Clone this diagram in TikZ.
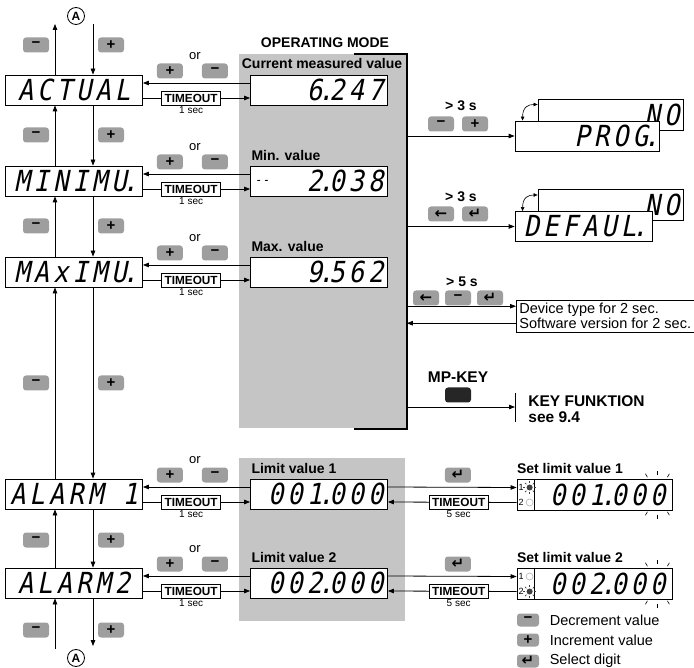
\documentclass[tikz,border=0pt]{standalone}
\usepackage{fontspec}
\setmainfont{Liberation Sans}
\newfontfamily\segfont[FakeSlant=0.2,FakeStretch=0.88,LetterSpace=14]{DejaVu Sans Mono}
\newfontfamily\symfont{DejaVu Sans}
\usetikzlibrary{calc,positioning,arrows.meta}
\definecolor{keygray}{RGB}{158,158,158}
\definecolor{modegray}{RGB}{197,197,197}
\tikzset{>={Triangle[length=6pt,width=4.5pt]},
  lcd/.style={draw,fill=white,minimum width=137pt,minimum height=30pt,inner sep=0pt,
    font=\segfont\fontsize{29}{29}\selectfont},
  disp/.style={lcd,text width=129pt,align=right},
  key/.style={fill=keygray,rounded corners=3pt,minimum width=26pt,minimum height=15pt,
    inner sep=0pt,font=\bfseries\fontsize{15}{15}\selectfont},
  tbox/.style={draw,fill=white,inner sep=1.5pt,minimum width=59pt,minimum height=14pt,
    font=\bfseries\fontsize{11.8}{12}\selectfont},
  sec/.style={font=\fontsize{10}{10}\selectfont,inner sep=1pt},
  hd/.style={font=\bfseries\fontsize{14}{14}\selectfont,inner sep=0pt},
  txt/.style={font=\fontsize{14.5}{15}\selectfont,inner sep=0pt},
  ring/.style={circle,draw,inner sep=0pt,minimum size=17pt,font=\bfseries\fontsize{12}{12}\selectfont}
}
\newcommand*{\segdot}{\hbox to 7pt{\hss.\hss}}
\newcommand*{\ledon}[1]
  {\fill[black!75] (#1) circle (3pt);
   \foreach \a in {0,45,...,315} \draw[black!75,line width=0.6pt] ($(#1)+(\a:4.5)$) -- ($(#1)+(\a:6.5)$)}
\newcommand*{\ledoff}[1]
  {\draw[black!30,line width=0.6pt] (#1) circle (3.5pt)}

\begin{document}
\begin{tikzpicture}[x=1pt,y=-1pt,line width=0.8pt]
\useasboundingbox (0,0) rectangle (694,668);
% operating mode panels
\node[fill=modegray,anchor=north west,minimum width=167pt,minimum height=374pt,inner sep=0pt] (mode) at (239,54) {};
\node[fill=modegray,anchor=north west,minimum width=166pt,minimum height=163pt,inner sep=0pt] (limit) at (239,458) {};
\draw[line width=2pt] ($(mode.north east)+(-53,0)$) -- (mode.north east) -- (mode.south east) -- ($(mode.south east)+(-53,0)$);
\node[hd] (opmode) at (325,43) {OPERATING MODE};
\node[hd] (curlabel) at (322,63) {Current measured value};

% menu displays
\node[lcd] (actual) at (74,90) {ACTUAL};
\node[lcd] (minimu) at (74,181) {MINIMU\segdot};
\node[lcd] (maximu) at (74,272) {MAxIMU\segdot};
\node[lcd] (alarm1) at (74,494) {ALARM 1};
\node[lcd] (alarm2) at (74,583) {ALARM2};

% value displays
\node[disp] (cur) at (319,90) {6\segdot247};
\node[disp] (min) at (319,181) {\raisebox{7pt}{\fontsize{13}{13}\selectfont-\kern1pt-}\hfill2\segdot038};
\node[disp] (max) at (319,272) {9\segdot562};
\node[disp] (lim1) at (319,494) {001\segdot000};
\node[disp] (lim2) at (319,583) {002\segdot000};
\foreach \n/\t in {min/Min. value,max/Max. value,lim1/Limit value 1,lim2/Limit value 2}
  \node[hd,anchor=west] (lb\n) at ($(\n.north west)+(1,-10)$) {\t};

% up/down through the menu
\node[ring] (atop) at (76,16) {A};
\node[ring] (abot) at (76,658) {A};
\coordinate (upend) at (55,24);
\coordinate (dnend) at (93,24);
\coordinate (upstart) at (55,649);
\coordinate (dnstop) at (93,646);
\draw[->] ($(actual.north)+(-19,0)$) -- (upend);
\draw[->] (dnend) -- ($(actual.north)+(19,0)$);
\foreach \a/\b in {actual/minimu,minimu/maximu,maximu/alarm1,alarm1/alarm2}{
  \draw[->] ($(\b.north)+(-19,0)$) -- ($(\a.south)+(-19,0)$);
  \draw[->] ($(\a.south)+(19,0)$) -- ($(\b.north)+(19,0)$);
}
\draw[->] (upstart) -- ($(alarm2.south)+(-19,0)$);
\draw[->] ($(alarm2.south)+(19,0)$) -- (dnstop);
\foreach \y in {45,135,226,383,540,630}{
  \node[key] (m\y) at (36,\y) {−};
  \node[key] (p\y) at (111,\y) {+};
}

% menu <-> value
\foreach \l/\r in {actual/cur,minimu/min,maximu/max,alarm1/lim1,alarm2/lim2}{
  \draw[->] ($(\r.west)+(0,-7)$) -- ($(\l.east)+(0,-7)$);
  \draw[->] ($(\l.east)+(0,8)$) -- node[tbox,pos=.45,label={[sec]below:1 sec}] (to\l) {TIMEOUT} ($(\r.west)+(0,8)$);
  \node[font=\fontsize{13}{13}\selectfont,inner sep=0pt] (or\l) at ($(\l.east)+(52,-34)$) {or};
  \node[key] (p\l) at ($(\l.east)+(27,-19)$) {+};
  \node[key] (m\l) at ($(\l.east)+(72,-19)$) {−};
}

% setting the limits
\node[lcd,minimum width=155pt,minimum height=31pt,text width=142pt,align=right] (set1) at (594.5,494.5) {001\segdot000};
\node[lcd,minimum width=155pt,minimum height=31pt,text width=142pt,align=right] (set2) at (594.5,583.5) {002\segdot000};
\foreach \n/\s in {1/set1,2/set2}{
  \draw[->] ($(lim\n.east)+(0,-7)$) -- ($(\s.west)+(0,-7)$);
  \draw[->] ($(\s.west)+(0,8)$) -- node[tbox,pos=.45,label={[sec]below:5 sec}] (ts\n) {TIMEOUT} ($(lim\n.east)+(0,8)$);
  \node[key] (e\n) at ($(lim\n.east)+(70,-19)$) {\symfont ↵};
  \node[hd,anchor=west] (lb\s) at ($(\s.north west)+(0,-10)$) {Set limit value \n};
  \draw ($(\s.north west)+(18,0)$) -- ($(\s.south west)+(18,0)$);
  \node[font=\fontsize{9}{9}\selectfont,inner sep=0pt] (one\n) at ($(\s.west)+(4.5,-7)$) {1};
  \node[font=\fontsize{9}{9}\selectfont,inner sep=0pt] (two\n) at ($(\s.west)+(4.5,8)$) {2};
  \coordinate (ledA\n) at ($(\s.west)+(13,-7)$);
  \coordinate (ledB\n) at ($(\s.west)+(13,8)$);
  \coordinate (fl\n) at ($(\s.east)+(-15,0)$);
  \foreach \a in {60,90,120,240,270,300}
    \draw[line width=0.6pt] ($(fl\n)+(\a:20)$) -- ($(fl\n)+(\a:24)$);
}
\ledon{ledA1};
\ledoff{ledB1};
\ledoff{ledA2};
\ledon{ledB2};

% PROG and DEFAUL
\node[lcd,minimum width=145pt,minimum height=31pt,text width=138pt,align=right] (no1) at (610.5,114.5) {NO};
\node[lcd,minimum width=144pt,text width=136pt,align=right] (prog) at (587,136) {PROG\segdot};
\node[lcd,minimum width=145pt,minimum height=31pt,text width=138pt,align=right] (no2) at (610.5,205) {NO};
\node[lcd] (defaul) at (583.5,226.5) {DEFAUL\segdot};
\draw[<->,>={Triangle[length=4pt,width=3.5pt]},line width=0.6pt] ($(prog.north west)+(8,0)$) .. controls +(0,-14) and +(-9,0) .. ($(no1.west)+(0,-10)$);
\draw[<->,>={Triangle[length=4pt,width=3.5pt]},line width=0.6pt] ($(defaul.north west)+(8,0)$) .. controls +(0,-14) and +(-9,0) .. ($(no2.west)+(0,-10)$);
\draw[->] (mode.east |- prog.west) -- (prog.west);
\draw[->] (mode.east |- defaul.west) -- (defaul.west);
\node[hd] (t3a) at (461,106) {> 3 s};
\node[key] (mprog) at (441,124) {−};
\node[key] (pprog) at (475,124) {+};
\node[hd] (t3b) at (461,197) {> 3 s};
\node[key] (ldef) at (441,214) {\symfont ←};
\node[key] (edef) at (475,214) {\symfont ↵};

% device type and software version
\node[hd] (t5) at (462,282) {> 5 s};
\node[key] (ldev) at (426,298) {\symfont ←};
\node[key] (mdev) at (458,298) {−};
\node[key] (edev) at (490,298) {\symfont ↵};
\node[draw,txt,inner sep=3pt,align=left,anchor=north west] (dev) at (516,300) {Device type for 2 sec.\\Software version for 2 sec.};
\coordinate (devin) at ($(dev.west)+(0,-10)$);
\coordinate (devout) at ($(dev.west)+(0,7)$);
\draw[->] (mode.east |- devin) -- (devin);
\draw[->] (devout) -- (mode.east |- devout);

% MP key
\node[hd,font=\bfseries\fontsize{15.5}{15.5}\selectfont] (mplabel) at (458,377) {MP-KEY};
\node[key,fill=black!85] (mp) at (458,395) {};
\coordinate (bar) at (515,407);
\draw (bar) ++(0,-14) -- ++(0,29);
\draw[->] (mode.east |- bar) -- (bar);
\node[anchor=west,align=left,font=\bfseries\fontsize{15.5}{16}\selectfont,inner sep=0pt] (keyfn) at (528,409) {KEY FUNKTION\\see 9.4};

% legend
\node[key,minimum width=22pt,minimum height=13pt] (lgminus) at (528,620) {−};
\node[key,minimum width=22pt,minimum height=13pt] (lgplus) at (528,640) {+};
\node[key,minimum width=22pt,minimum height=13pt] (lgenter) at (528,661) {\symfont ↵};
\node[txt,right=10pt of lgminus] (lgdec) {Decrement value};
\node[txt,right=10pt of lgplus] (lginc) {Increment value};
\node[txt,right=10pt of lgenter] (lgsel) {Select digit};
\end{tikzpicture}
\end{document}
